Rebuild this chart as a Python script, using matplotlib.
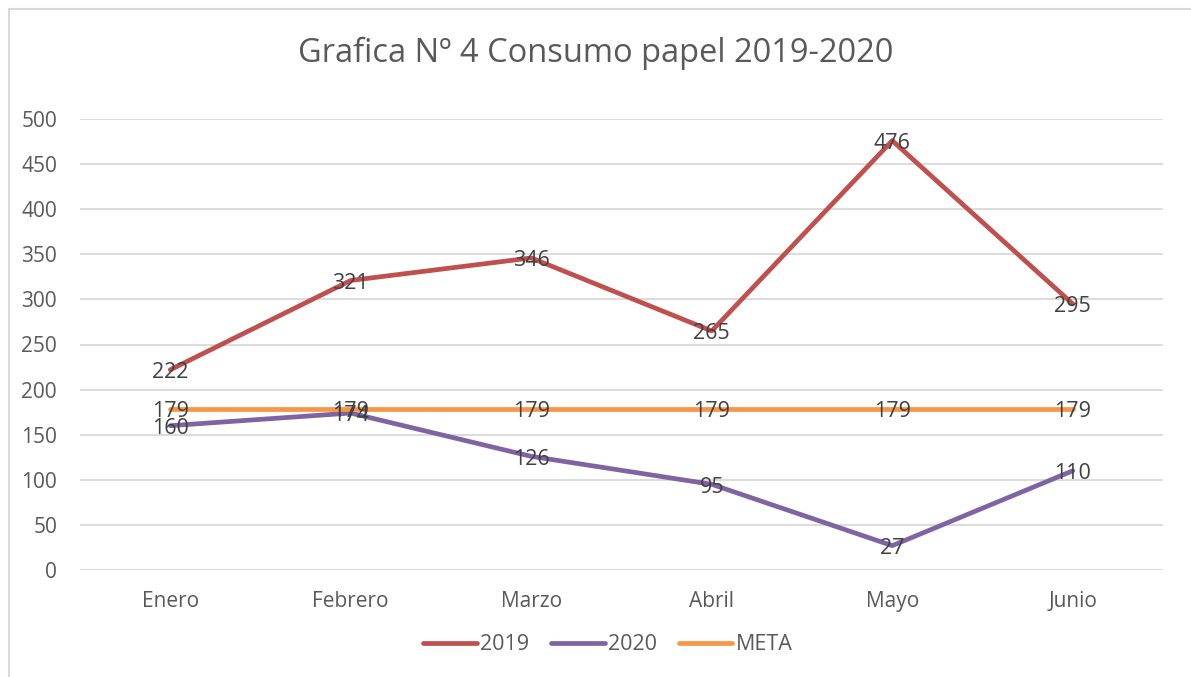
import matplotlib
matplotlib.use("Agg")
import matplotlib.pyplot as plt
from matplotlib.lines import Line2D

plt.rcParams['font.family'] = ['Open Sans', 'DejaVu Sans']

meses = ["Enero", "Febrero", "Marzo", "Abril", "Mayo", "Junio"]
consumo_2019 = [222, 321, 346, 265, 476, 295]
consumo_2020 = [160, 174, 126, 95, 27, 110]
meta = [179, 179, 179, 179, 179, 179]

series = [
    ("2019", consumo_2019, "#C0504D"),
    ("2020", consumo_2020, "#8064A2"),
    ("META", meta, "#F79646"),
]

fig = plt.figure(figsize=(11.91, 6.77), dpi=100)
ax = fig.add_axes([80 / 1191, 1 - 570 / 677, (1163 - 80) / 1191, (570 - 119) / 677])

x = list(range(len(meses)))
for nombre, valores, color in series:
    ax.plot(x, valores, color=color, lw=3.4, solid_capstyle="round", label=nombre, zorder=3)

# etiquetas de datos centradas sobre cada punto
for nombre, valores, color in series:
    for xi, v in zip(x, valores):
        ax.annotate(str(v), (xi, v), xytext=(0, -2), textcoords="offset points",
                    ha="center", va="center", fontsize=15.5, color="#404040", zorder=4)

ax.set_xlim(-0.5, len(meses) - 0.5)
ax.set_ylim(0, 500)
ax.set_yticks(range(0, 501, 50))
ax.set_xticks(x)
ax.set_xticklabels(meses)
ax.grid(axis="y", color="#D9D9D9", lw=1.3, zorder=0)
ax.set_axisbelow(True)
for s in ax.spines.values():
    s.set_visible(False)
ax.tick_params(axis="both", length=0, labelsize=15, colors="#595959")
ax.tick_params(axis="y", pad=16.5)
ax.tick_params(axis="x", pad=15)

fig.text(0.5, 1 - 53 / 677, "Grafica Nº 4 Consumo papel 2019-2020", ha="center", va="center",
         fontsize=23.5, color="#595959")

handles = [Line2D([0], [0], color=c, lw=3.4, solid_capstyle="round") for _, _, c in series]
fig.legend(handles, [n for n, _, _ in series], loc="center", bbox_to_anchor=(608 / 1191, 1 - 645 / 677),
           ncol=3, frameon=False, fontsize=15.5, labelcolor="#595959", handlelength=2.5,
           handletextpad=0.15, columnspacing=1.0)

# marco del grafico
fig.add_artist(Line2D([9 / 1191, 9 / 1191], [0, 1 - 9 / 677], color="#D9D9D9", lw=1.5, transform=fig.transFigure))
fig.add_artist(Line2D([9 / 1191, 1], [1 - 9 / 677, 1 - 9 / 677], color="#D9D9D9", lw=1.5, transform=fig.transFigure))

fig.savefig("out.png", dpi=100, facecolor="white")
